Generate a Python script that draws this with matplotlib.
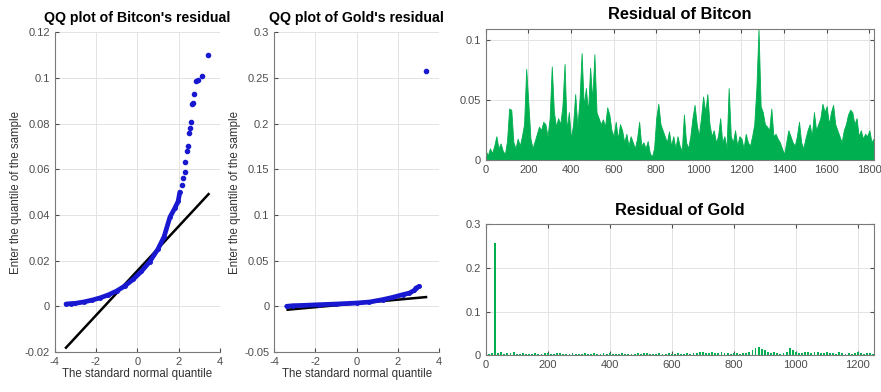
import numpy as np
import matplotlib.pyplot as plt
from matplotlib.ticker import FuncFormatter

plt.rcParams['font.family'] = ['Liberation Sans', 'DejaVu Sans']
plt.rcParams['axes.unicode_minus'] = False

# QQ plot of Bitcoin residual: theoretical quantile, sample quantile
btc_qq_theo = [-3.45, -3.2, -3.0, -2.6, -2.2, -1.8, -1.4, -1.0, -0.6, -0.2, 0.2, 0.6,
               1.0, 1.3, 1.58, 1.82, 1.98, 2.06]
btc_qq_samp = [0.0010, 0.0012, 0.0013, 0.0019, 0.0027, 0.0037, 0.0050, 0.0067, 0.0089,
               0.0118, 0.0153, 0.0195, 0.0250, 0.0305, 0.0390, 0.0430, 0.0460, 0.0500]
btc_qq_tail_theo = [2.16, 2.22, 2.30, 2.32, 2.42, 2.44, 2.52, 2.55, 2.61, 2.66, 2.71,
                    2.76, 2.84, 2.92, 3.11, 3.42]
btc_qq_tail_samp = [0.053, 0.056, 0.059, 0.063, 0.068, 0.070, 0.076, 0.078, 0.0807,
                    0.0887, 0.089, 0.0931, 0.0986, 0.0989, 0.1007, 0.1100]
btc_qq_line_x = [-3.45, 3.45]
btc_qq_line_y = [-0.0181, 0.0491]

# QQ plot of Gold residual
gold_qq_theo = [-3.40, -3.1, -2.62, -1.81, -1.0, 0.0, 0.62, 1.26, 1.75, 2.23, 2.56, 2.8, 2.88, 3.04]
gold_qq_samp = [0.0, 0.0007, 0.0010, 0.0018, 0.0025, 0.0036, 0.0047, 0.0073, 0.0098,
                0.0127, 0.0145, 0.0174, 0.0200, 0.0218]
gold_qq_out_theo = [3.35]
gold_qq_out_samp = [0.258]
gold_qq_line_x = [-3.35, 3.37]
gold_qq_line_y = [-0.0037, 0.0101]

# residual series, one value every 10 days
btc_step = 10
btc_resid = [
    .008, .004, .010, .006, .012, .020, .010, .014, .008, .005,
    .016, .043, .042, .015, .010, .018, .012, .020, .030, .076,
    .048, .018, .010, .016, .022, .028, .025, .032, .030, .020,
    .035, .078, .040, .028, .035, .030, .045, .080, .025, .040,
    .018, .030, .055, .028, .050, .089, .045, .060, .040, .077,
    .050, .088, .040, .035, .030, .034, .028, .044, .038, .025,
    .020, .032, .018, .030, .025, .015, .022, .012, .020, .015,
    .010, .018, .032, .012, .015, .010, .016, .006, .003, .010,
    .035, .047, .030, .025, .020, .015, .024, .012, .020, .010,
    .020, .012, .008, .038, .015, .010, .020, .035, .046, .030,
    .020, .035, .053, .040, .055, .030, .020, .025, .015, .020,
    .035, .015, .020, .010, .060, .020, .015, .025, .012, .020,
    .018, .010, .022, .015, .012, .020, .030, .060, .109, .045,
    .040, .030, .028, .025, .043, .020, .022, .018, .015, .010,
    .005, .015, .025, .020, .015, .012, .020, .032, .015, .010,
    .018, .025, .030, .020, .040, .025, .030, .035, .047, .040,
    .045, .030, .040, .046, .030, .025, .020, .015, .025, .030,
    .038, .042, .040, .030, .035, .020, .025, .018, .022, .020,
    .025, .015, .018]

gold_step = 10
gold_resid = [
    .004, .003, .005, .258, .006, .008, .004, .005, .006, .007,
    .004, .003, .005, .004, .003, .004, .005, .003, .004, .005,
    .006, .003, .004, .005, .006, .004, .003, .004, .005, .003,
    .004, .003, .005, .004, .003, .005, .004, .003, .005, .004,
    .006, .004, .003, .004, .005, .003, .004, .003, .004, .005,
    .004, .005, .006, .004, .003, .004, .005, .003, .004, .005,
    .003, .004, .005, .004, .003, .005, .004, .005, .006, .008,
    .007, .006, .005, .007, .006, .005, .007, .006, .005, .004,
    .005, .006, .004, .005, .006, .008, .012, .016, .020, .014,
    .012, .008, .005, .007, .006, .004, .005, .008, .016, .012,
    .008, .006, .005, .007, .008, .006, .007, .008, .006, .005,
    .007, .006, .005, .004, .007, .005, .004, .005, .004, .006,
    .007, .005, .004, .005, .006, .004]

BLUE = '#1818d0'
GREEN = '#00b050'
TICK = '#4d4d4d'
GRID = '#e3e3e3'
fmt = FuncFormatter(lambda v, p: '%g' % round(v, 4))


def style(ax, box):
    ax.grid(True, color=GRID, linewidth=0.7)
    ax.set_axisbelow(True)
    ax.tick_params(direction='in', labelsize=8, colors=TICK, length=3,
                   top=box, right=box)
    for s in ax.spines.values():
        s.set_color('#7a7a7a')
        s.set_linewidth(0.8)
    if not box:
        ax.spines['top'].set_visible(False)
        ax.spines['right'].set_visible(False)
    ax.yaxis.set_major_formatter(fmt)
    ax.xaxis.set_major_formatter(fmt)


fig = plt.figure(figsize=(8.81, 3.92), dpi=100)

ax1 = fig.add_axes([0.062, 0.102, 0.1876, 0.816])
ax1.plot(btc_qq_line_x, btc_qq_line_y, color='black', lw=1.8)
ax1.plot(btc_qq_theo, btc_qq_samp, color=BLUE, lw=3.4, solid_capstyle='round')
ax1.plot(btc_qq_theo, btc_qq_samp, '.', color=BLUE, ms=5)
ax1.plot(btc_qq_tail_theo, btc_qq_tail_samp, '.', color=BLUE, ms=6)
ax1.set_xlim(-4, 4)
ax1.set_ylim(-0.02, 0.12)
ax1.set_xticks([-4, -2, 0, 2, 4])
ax1.set_yticks(np.arange(-0.02, 0.121, 0.02))
style(ax1, False)
ax1.set_title("QQ plot of Bitcon's residual", fontsize=10.2, fontweight='bold', pad=7)
ax1.set_xlabel('The standard normal quantile', fontsize=8.3, color='#333333', labelpad=1)
ax1.set_ylabel('Enter the quantile of the sample', fontsize=8.3, color='#333333', labelpad=2)

ax2 = fig.add_axes([0.3113, 0.102, 0.187, 0.816])
ax2.plot(gold_qq_line_x, gold_qq_line_y, color='black', lw=1.8)
ax2.plot(gold_qq_theo, gold_qq_samp, color=BLUE, lw=3.4, solid_capstyle='round')
ax2.plot(gold_qq_theo, gold_qq_samp, '.', color=BLUE, ms=5)
ax2.plot(gold_qq_out_theo, gold_qq_out_samp, '.', color=BLUE, ms=6)
ax2.set_xlim(-4, 4)
ax2.set_ylim(-0.05, 0.3)
ax2.set_xticks([-4, -2, 0, 2, 4])
ax2.set_yticks(np.arange(-0.05, 0.301, 0.05))
style(ax2, False)
ax2.set_title("QQ plot of Gold's residual", fontsize=10.2, fontweight='bold', pad=7)
ax2.set_xlabel('The standard normal quantile', fontsize=8.3, color='#333333', labelpad=1)
ax2.set_ylabel('Enter the quantile of the sample', fontsize=8.3, color='#333333', labelpad=2)

ax3 = fig.add_axes([0.5513, 0.591, 0.4408, 0.335])
t_btc = np.arange(len(btc_resid)) * btc_step
ax3.fill_between(t_btc, 0, btc_resid, color=GREEN, linewidth=0.6, edgecolor=GREEN)
ax3.set_xlim(0, 1822)
ax3.set_ylim(0, 0.109)
ax3.set_xticks(np.arange(0, 1801, 200))
ax3.set_yticks([0, 0.05, 0.1])
style(ax3, True)
ax3.set_title('Residual of Bitcon', fontsize=11.8, fontweight='bold', pad=7)

ax4 = fig.add_axes([0.5513, 0.0936, 0.4408, 0.334])
t_gold = np.arange(len(gold_resid)) * gold_step
ax4.bar(t_gold, gold_resid, width=gold_step * 0.6, align='center', color=GREEN,
        linewidth=0)
ax4.set_xlim(0, 1252)
ax4.set_ylim(0, 0.3)
ax4.set_xticks(np.arange(0, 1201, 200))
ax4.set_yticks([0, 0.1, 0.2, 0.3])
style(ax4, True)
ax4.set_title('Residual of Gold', fontsize=11.8, fontweight='bold', pad=7)

fig.savefig('out.png', dpi=100)
